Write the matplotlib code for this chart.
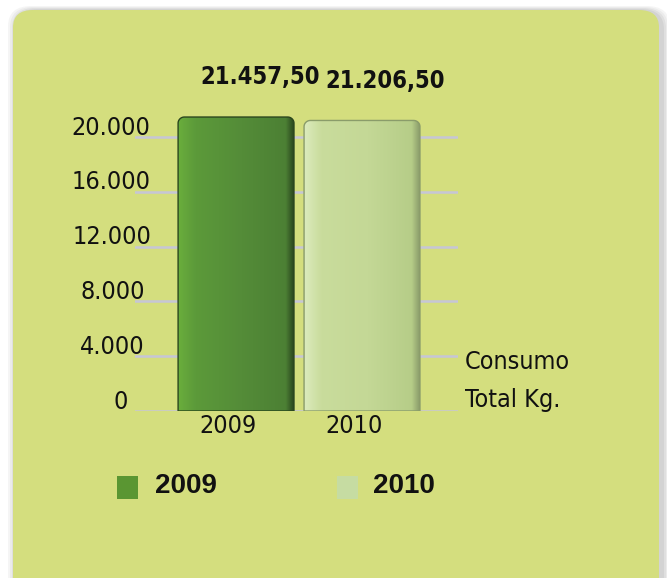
import numpy as np
import matplotlib.pyplot as plt
from matplotlib.patches import FancyBboxPatch, PathPatch, Rectangle
from matplotlib.path import Path
from matplotlib.colors import LinearSegmentedColormap
import matplotlib.transforms as mtransforms

# Datos
anios = ["2009", "2010"]
consumo = [21457.50, 21206.50]
etiquetas = ["21.457,50", "21.206,50"]
ticks_y = [0, 4000, 8000, 12000, 16000, 20000]
ticks_txt = ["0", "4.000", "8.000", "12.000", "16.000", "20.000"]

# Colores
fondo = "#d4de7e"
color_leyenda = ["#5a9632", "#c6dca2"]
degradados = [
    ["#6aae3c", "#5c9a3a", "#548c38", "#4c8034", "#2a461e"],
    ["#dcebbe", "#c9dc9c", "#c4d896", "#b6cd88", "#8a9c6a"],
]

narrow = dict(family=["DejaVu Sans"], stretch="condensed", color="#111111")

W, H = 667.0, 578.0
fig = plt.figure(figsize=(W / 100, H / 100), dpi=100)
fig.patch.set_facecolor("white")

# Panel verde con sombra suave
for i, a in enumerate([0.04, 0.04, 0.05, 0.05]):
    d = 8 - 2 * i
    sombra = FancyBboxPatch(((13 - d + 3) / W, -0.1), (646 + 2 * d) / W, (H - 10 + 0.5 * d) / H + 0.1,
                            boxstyle="round,pad=0,rounding_size=0.035",
                            transform=fig.transFigure, facecolor="black", alpha=a,
                            edgecolor="none", zorder=0)
    fig.add_artist(sombra)
panel = FancyBboxPatch((13 / W, -0.1), 646 / W, (H - 10) / H + 0.1,
                       boxstyle="round,pad=0,rounding_size=0.03",
                       transform=fig.transFigure, facecolor=fondo,
                       edgecolor="none", zorder=1)
fig.add_artist(panel)

ax = fig.add_axes([135 / W, 0.2889, 323 / W, 0.5689])
ax.set_facecolor("none")
ax.set_zorder(2)
ax.set_xlim(-0.802, 1.762)
ax.set_ylim(0, 24000)
ax.axis("off")

for v in ticks_y:
    ax.axhline(v, color="#c6c6d6", lw=1.8, zorder=1)


def barra_redondeada(x0, ancho, alto, rx=0.05, ry=450, n=12):
    # rectangulo con las esquinas superiores redondeadas (en unidades de datos)
    t = np.linspace(0, np.pi / 2, n)
    izq = [(x0 + rx - rx * np.cos(a), alto - ry + ry * np.sin(a)) for a in t]
    der = [(x0 + ancho - rx + rx * np.sin(a), alto - ry + ry * np.cos(a)) for a in t]
    pts = [(x0, 0)] + izq + der + [(x0 + ancho, 0), (x0, 0)]
    codes = [Path.MOVETO] + [Path.LINETO] * (len(pts) - 2) + [Path.CLOSEPOLY]
    return Path(pts, codes)


# Barras con degradado horizontal
x = np.arange(len(anios))
barras = ax.bar(x, consumo, width=0.92, color="none", edgecolor="none", zorder=2)
grad = np.linspace(0, 1, 256).reshape(1, -1)
for b, cols in zip(barras, degradados):
    cmap = LinearSegmentedColormap.from_list("g", list(zip([0, 0.15, 0.55, 0.93, 1.0], cols)))
    x0, w, h = b.get_x(), b.get_width(), b.get_height()
    forma = PathPatch(barra_redondeada(x0, w, h), facecolor="none",
                      edgecolor=cols[-1], lw=1.0, zorder=4)
    ax.add_patch(forma)
    im = ax.imshow(grad, cmap=cmap, aspect="auto", zorder=3,
                   extent=[x0, x0 + w, 0, h])
    im.set_clip_path(forma)

# Valores sobre las barras
for xi, v, t in zip(x, consumo, etiquetas):
    ax.annotate(t, (xi, v), xytext=(17, 20), textcoords="offset points",
                ha="center", va="bottom", fontsize=17, fontweight="bold", zorder=5, **narrow)

# Etiquetas del eje Y (borde derecho en pixeles)
borde_der = [128, 145, 145, 151, 151, 150]
trans_y = mtransforms.blended_transform_factory(ax.transAxes, ax.transData)
for v, t, xr in zip(ticks_y, ticks_txt, borde_der):
    ax.text((xr - 135) / 323, v + 180, t, transform=trans_y, ha="right", va="baseline",
            fontsize=18, zorder=5, **narrow)

# Etiquetas del eje X
for xi, t in zip(x, anios):
    ax.annotate(t, (xi, 0), xytext=(-6, -2), textcoords="offset points",
                ha="center", va="top", fontsize=18, **narrow)

fig.text(465 / W, 1 - 362 / H, "Consumo", ha="left", va="center",
         fontsize=18, zorder=5, **narrow)
fig.text(465 / W, 1 - 400 / H, "Total Kg.", ha="left", va="center",
         fontsize=18, zorder=5, **narrow)

# Leyenda
for xs, xt, t, c in zip([117, 337], [155, 373], anios, color_leyenda):
    fig.add_artist(Rectangle((xs / W, 1 - 499 / H), 21 / W, 23 / H,
                             transform=fig.transFigure, facecolor=c,
                             edgecolor="none", zorder=5))
    fig.text(xt / W, 1 - 486 / H, t, ha="left", va="center", fontsize=20,
             fontweight="bold", family=["Liberation Sans", "DejaVu Sans"],
             color="#111111", zorder=5)

fig.savefig("out.png", dpi=100, facecolor=fig.get_facecolor())
